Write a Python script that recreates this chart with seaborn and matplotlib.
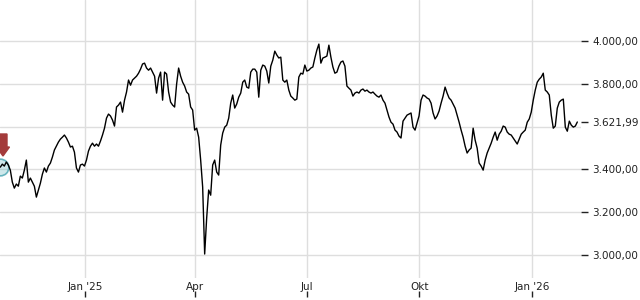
import numpy as np
import pandas as pd
import matplotlib
matplotlib.use("Agg")
import matplotlib.pyplot as plt
import matplotlib.dates as mdates
from matplotlib.patches import FancyArrow
from matplotlib.transforms import IdentityTransform
import seaborn as sns

# ---- data ----
start_date = "2024-10-24"
end_date = "2026-02-07"
values = [
    3411, 3425, 3416, 3435, 3421, 3397, 3341, 3313, 3332, 3322,
    3369, 3360, 3397, 3444, 3341, 3360, 3341, 3322, 3271, 3304,
    3336, 3378, 3407, 3388, 3416, 3430, 3458, 3491, 3509, 3528,
    3542, 3551, 3561, 3547, 3528, 3505, 3509, 3481, 3407, 3388,
    3421, 3425, 3416, 3444, 3486, 3509, 3523, 3509, 3519, 3509,
    3533, 3561, 3593, 3640, 3659, 3650, 3631, 3603, 3692, 3701,
    3715, 3668, 3724, 3762, 3818, 3794, 3818, 3827, 3836, 3850,
    3869, 3893, 3897, 3874, 3864, 3874, 3855, 3836, 3757, 3827,
    3855, 3724, 3855, 3846, 3762, 3715, 3701, 3692, 3799, 3874,
    3836, 3808, 3790, 3762, 3752, 3692, 3678, 3584, 3593, 3551,
    3444, 3318, 3005, 3173, 3304, 3280, 3421, 3444, 3388, 3374,
    3514, 3570, 3598, 3607, 3640, 3710, 3748, 3687, 3706, 3738,
    3757, 3808, 3818, 3785, 3780, 3855, 3869, 3869, 3855, 3738,
    3864, 3888, 3883, 3860, 3804, 3883, 3911, 3953, 3935, 3921,
    3925, 3818, 3808, 3818, 3771, 3743, 3734, 3724, 3729, 3832,
    3850, 3846, 3888, 3860, 3864, 3874, 3879, 3921, 3958, 3986,
    3897, 3921, 3925, 3930, 3981, 3925, 3879, 3850, 3855, 3883,
    3902, 3907, 3883, 3790, 3780, 3771, 3743, 3757, 3762, 3757,
    3771, 3776, 3766, 3771, 3762, 3757, 3762, 3752, 3743, 3738,
    3748, 3724, 3710, 3678, 3645, 3621, 3612, 3584, 3575, 3556,
    3547, 3626, 3640, 3654, 3659, 3664, 3598, 3584, 3617, 3650,
    3724, 3748, 3743, 3734, 3729, 3710, 3664, 3636, 3650, 3673,
    3710, 3743, 3785, 3757, 3734, 3724, 3706, 3687, 3654, 3621,
    3584, 3551, 3509, 3477, 3491, 3500, 3593, 3537, 3500, 3430,
    3416, 3397, 3444, 3477, 3500, 3523, 3551, 3575, 3537, 3565,
    3579, 3603, 3598, 3575, 3565, 3561, 3547, 3533, 3519, 3542,
    3565, 3575, 3584, 3621, 3636, 3668, 3724, 3771, 3808, 3822,
    3832, 3850, 3771, 3762, 3748, 3654, 3593, 3603, 3687, 3715,
    3724, 3729, 3598, 3579, 3626, 3607, 3598, 3603, 3621.99,
]
last_value = 3621.99
y_ticks = [3000, 3200, 3400, 3800, 4000]
grid_levels = [3000, 3200, 3400, 3600, 3800, 4000]
x_tick_dates = ["2025-01-01", "2025-04-01", "2025-07-01", "2025-10-01", "2026-01-01"]
x_tick_labels = ["Jan '25", "Apr", "Jul", "Okt", "Jan '26"]

dates = pd.date_range(start_date, end_date, periods=len(values))
df = pd.DataFrame({"date": dates, "value": values})


def de_fmt(v):
    s = f"{v:,.2f}"
    return s.replace(",", "X").replace(".", ",").replace("X", ".")


sns.set_style("white")
plt.rcParams["font.family"] = ["DejaVu Sans"]

W, H = 640, 300
fig = plt.figure(figsize=(W / 100, H / 100), dpi=100)
ax_right = 581
ax_bottom = 278
ax = fig.add_axes([0, (H - ax_bottom) / H, ax_right / W, ax_bottom / H])

grid_c = "#dedede"
for g in grid_levels:
    ax.axhline(g, color=grid_c, lw=1.0, zorder=0)
for d in x_tick_dates:
    ax.axvline(pd.Timestamp(d), color=grid_c, lw=1.0, zorder=0)

sns.lineplot(data=df, x="date", y="value", ax=ax, color="black",
             linewidth=1.0, zorder=3)

ax.set_xlim(pd.Timestamp("2024-10-23 18:00"), pd.Timestamp("2026-02-10"))
ax.set_ylim(2893, 4192)

for s in ax.spines.values():
    s.set_visible(False)
ax.set_xlabel("")
ax.set_ylabel("")
ax.grid(False)

yt = sorted(y_ticks + [last_value])
ax.yaxis.tick_right()
ax.set_yticks(yt)
ax.set_yticklabels([de_fmt(v) for v in yt])
ax.tick_params(axis="y", length=5, width=1, color="#222222", pad=3,
               labelsize=7.5, labelcolor="#222222", direction="out")

ax.set_xticks([pd.Timestamp(d) for d in x_tick_dates])
ax.set_xticklabels(x_tick_labels)
ax.tick_params(axis="x", length=0, pad=3, labelsize=7.5, labelcolor="#222222")

# small tick marks under the month labels
sec = ax.secondary_xaxis(-(297 - ax_bottom) / ax_bottom)
sec.set_xticks([pd.Timestamp(d) for d in x_tick_dates])
sec.set_xticklabels([""] * len(x_tick_dates))
sec.tick_params(axis="x", direction="in", length=4, width=1, color="#222222")
sec.spines["bottom"].set_visible(False)

# highlight at the first point
ax.plot([df["date"].iloc[0]], [df["value"].iloc[0]], marker="o",
        markersize=12, markerfacecolor=(0.45, 0.75, 0.78, 0.35),
        markeredgecolor=(0.35, 0.68, 0.72, 0.9), markeredgewidth=1.2,
        clip_on=False, zorder=2)

arrow = FancyArrow(3, H - 134, 0, -22, width=8, head_width=13,
                   head_length=9, length_includes_head=True,
                   color="#a33b3b", transform=IdentityTransform())
fig.patches.append(arrow)

fig.savefig("out.png", dpi=100, facecolor="white")
